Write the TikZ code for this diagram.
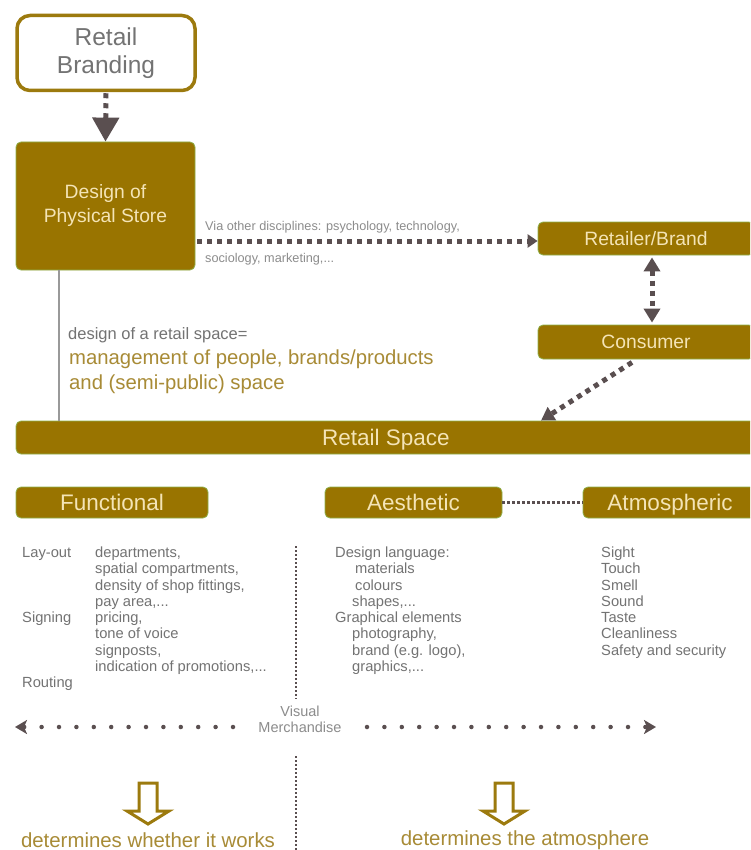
\documentclass[tikz,border=0pt]{standalone}
\usepackage{fontspec}
\setmainfont{Liberation Sans}
\usetikzlibrary{arrows.meta}

\definecolor{boxfill}{HTML}{997400}
\definecolor{boxedge}{HTML}{8FB04C}
\definecolor{boxtext}{HTML}{F4E4B6}
\definecolor{linkc}{HTML}{5A4F50}
\definecolor{greytext}{HTML}{737373}
\definecolor{lightgrey}{HTML}{8C8C8C}
\definecolor{goldtext}{HTML}{A88B36}
\definecolor{goldline}{HTML}{9C7A0E}

\newcommand\fsz[2]{\fontsize{#1}{#2}\selectfont}

\begin{document}
\begin{tikzpicture}[x=1pt,y=-1pt,
  fillbox/.style={fill=boxfill, draw=boxedge, line width=0.8pt,
    rounded corners=5pt, text=boxtext, inner sep=0pt, align=center},
  % single-line labels: caps centred in the box
  bigline/.style={font=\fsz{22.5}{24}, text height=20.6pt, text depth=4.5pt},
  midline/.style={font=\fsz{19.3}{22}, text height=17.7pt, text depth=3.9pt},
  whitebox/.style={fill=white, draw=goldline, line width=3.5pt,
    rounded corners=13pt, text=greytext, inner sep=0pt, align=center},
  bigdash/.style={draw=linkc, line width=5pt, dash pattern=on 5pt off 5pt},
  smalldash/.style={draw=linkc, line width=3.5pt, dash pattern=on 3pt off 2pt},
  sepline/.style={draw=linkc, line width=2pt, dash pattern=on 2pt off 2pt},
  dotarrow/.style={draw=linkc, line width=4.5pt, line cap=round,
    dash pattern=on 0pt off 17.4pt,
    -{Stealth[width=14pt,length=12pt,inset=3pt,line cap=butt]}},
  listtext/.style={anchor=base west, inner sep=0pt, align=left,
    text=greytext, font=\fsz{14.7}{16.25}},
  hollow/.style={draw=goldline, line width=3pt, line join=miter}
]
\clip (0,0) rectangle (750,850);
\fill[white] (0,0) rectangle (750,850);

% --- top chain -------------------------------------------------------
\node[whitebox, minimum width=178pt, minimum height=75pt,
  font=\fsz{24.5}{28}] (brand) at (106,53) {Retail\\Branding};
\node[fillbox, minimum width=179pt, minimum height=128pt,
  font=\fsz{19.3}{24}] (design) at (105.5,206) {Design of\\Physical Store};

\draw[bigdash, -{Triangle[width=26pt,length=24pt]}]
  ([yshift=-1pt]brand.south) -- (design.north);

\node[fillbox, midline, minimum width=216pt, minimum height=33pt]
  (retailer) at (646,238.5) {Retailer/Brand};
\node[fillbox, midline, minimum width=216pt, minimum height=34pt]
  (consumer) at (646,342) {Consumer};

\draw[bigdash, -{Triangle[width=13pt,length=10pt]}]
  ([xshift=2pt,yshift=-2.5pt]design.south east |- retailer.west) -- ([yshift=-2.5pt]retailer.west);
\node[anchor=base west, inner sep=0pt, text=lightgrey, font=\fsz{12.7}{14}]
  (via1) at (205,230) {Via other disciplines: psychology, technology,};
\node[anchor=base west, inner sep=0pt, text=lightgrey, font=\fsz{12.7}{14}]
  (via2) at (205,262) {sociology, marketing,...};

\draw[bigdash, {Triangle[width=16pt,length=14pt]}-{Triangle[width=16pt,length=14pt]},
  shorten <=2pt, shorten >=2pt]
  ([xshift=6pt]retailer.south) -- ([xshift=6pt]consumer.north);

% --- retail space ------------------------------------------------------
\node[fillbox, bigline, minimum width=740pt, minimum height=33pt]
  (space) at (386,437.5) {Retail Space};

\draw[bigdash, -{Triangle[width=15pt,length=13pt]}]
  ([xshift=-14pt,yshift=-3pt]consumer.south) -- ([xshift=155pt]space.north);

\draw[draw=gray!80, line width=1.2pt]
  ([xshift=-46.5pt]design.south) -- ([xshift=-46.5pt]design.south |- space.north);

\node[anchor=base west, inner sep=0pt, text=greytext, font=\fsz{16.5}{18}]
  (defn) at (68,339) {design of a retail space=};
\node[anchor=base west, inner sep=0pt, text=goldtext, font=\fsz{20.3}{25}, align=left]
  (mgmt) at (69,389) {management of people, brands/products\\and (semi-public) space};

% --- three aspects -----------------------------------------------------
\node[fillbox, bigline, minimum width=192pt, minimum height=31pt]
  (func) at (112,502.5) {Functional};
\node[fillbox, bigline, minimum width=177pt, minimum height=31pt]
  (aest) at (413.5,502.5) {Aesthetic};
\node[fillbox, bigline, minimum width=174pt, minimum height=31pt]
  (atmo) at (670,502.5) {Atmospheric};

\draw[smalldash] (aest.east) -- (atmo.west);

% --- lists (base anchor sits on the last line) --------------------------
\node[listtext] (funclab) at (22,687.5)
  {Lay-out\\\mbox{}\\\mbox{}\\\mbox{}\\Signing\\\mbox{}\\\mbox{}\\\mbox{}\\Routing};
\node[listtext] (funcitems) at (95,671.25)
  {departments,\\spatial compartments,\\density of shop fittings,\\pay area,...\\
   pricing,\\tone of voice\\signposts,\\indication of promotions,...};
\node[listtext] (aestitems) at (335,671.25)
  {Design language:\\\hspace*{20pt}materials\\\hspace*{20pt}colours\\\hspace*{17pt}shapes,...\\
   Graphical elements\\\hspace*{17pt}photography,\\\hspace*{17pt}brand (e.g. logo),\\\hspace*{17pt}graphics,...};
\node[listtext] (atmoitems) at (601,655)
  {Sight\\Touch\\Smell\\Sound\\Taste\\Cleanliness\\Safety and security};

% --- separator and visual merchandise ----------------------------------
\coordinate (sepA) at (296,546);
\coordinate (sepB) at (296,699);
\coordinate (sepC) at (296,756);
\coordinate (sepD) at (296,850);
\draw[sepline] (sepA) -- (sepB);
\draw[sepline] (sepC) -- (sepD);

\node[inner sep=0pt, text=lightgrey, font=\fsz{14.5}{16}, align=center]
  (vm) at (300,719) {Visual\\Merchandise};
\coordinate (vmL) at (15,727);
\coordinate (vmR) at (656,727);
\draw[dotarrow] (233,727) -- (vmL);
\draw[dotarrow] (367,727) -- (vmR);

% --- conclusions -------------------------------------------------------
\coordinate (tipL) at (148,824);
\coordinate (tipR) at (504,824);
\draw[hollow] ([xshift=-9pt,yshift=41pt]tipL) -- ([xshift=9pt,yshift=41pt]tipL)
  -- ([xshift=9pt,yshift=13pt]tipL) -- ([xshift=21pt,yshift=13pt]tipL) -- (tipL)
  -- ([xshift=-21pt,yshift=13pt]tipL) -- ([xshift=-9pt,yshift=13pt]tipL) -- cycle;
\draw[hollow] ([xshift=-9pt,yshift=41pt]tipR) -- ([xshift=9pt,yshift=41pt]tipR)
  -- ([xshift=9pt,yshift=13pt]tipR) -- ([xshift=21pt,yshift=13pt]tipR) -- (tipR)
  -- ([xshift=-21pt,yshift=13pt]tipR) -- ([xshift=-9pt,yshift=13pt]tipR) -- cycle;

\node[inner sep=0pt, text=goldtext, font=\fsz{20.4}{24}] (works) at (148,840)
  {determines whether it works};
\node[inner sep=0pt, text=goldtext, font=\fsz{20.4}{24}] (atmos) at (525,840)
  {determines the atmosphere};
\end{tikzpicture}
\end{document}
